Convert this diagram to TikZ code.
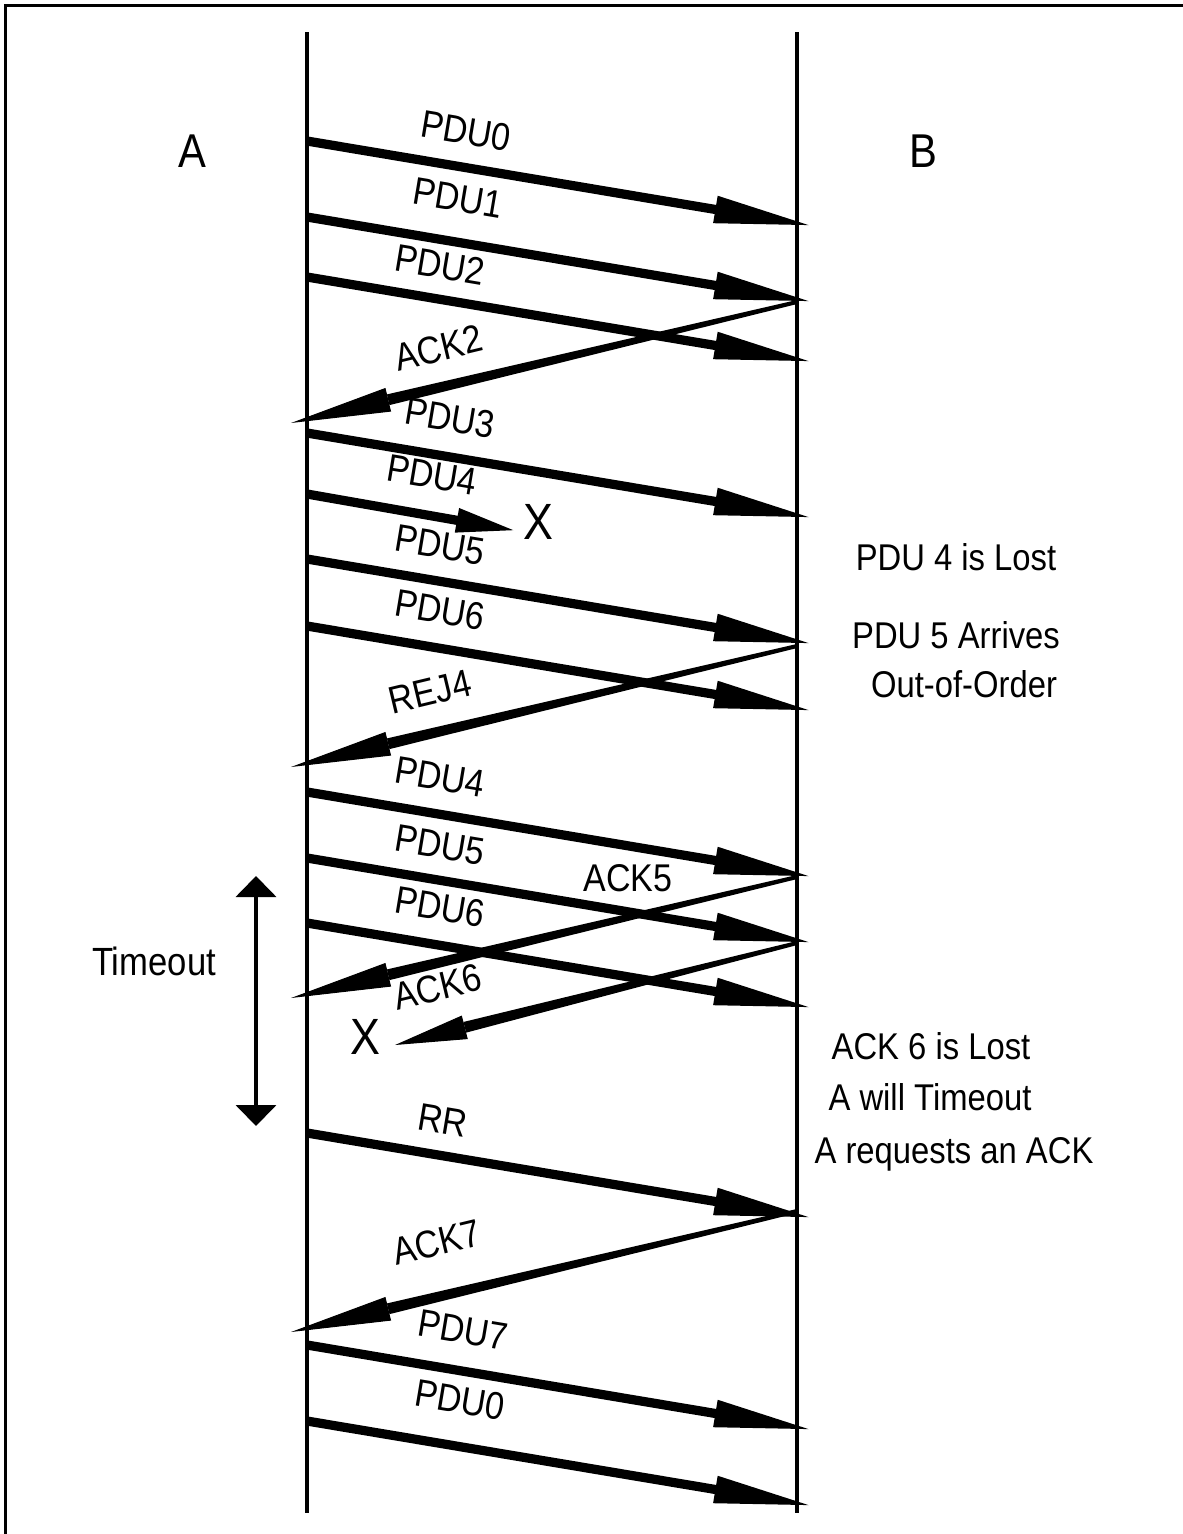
\documentclass[tikz,border=0pt]{standalone}
\usepackage{fontspec}
\setmainfont{Liberation Sans}[FakeStretch=0.88]
\usetikzlibrary{arrows.meta,calc}

% tapered acknowledgement line from B back to A, with its head
\newcommand{\ackarrow}[3][10mm]{%
  \fill ($(#2)!0.2mm!90:(#3)$) -- ($(#2)!0.2mm!-90:(#3)$)
    -- ($(#3)!#1!(#2)!0.55mm!90:(#2)$) -- ($(#3)!#1!(#2)!0.55mm!-90:(#2)$) -- cycle;
  \draw[acktip=#1] (#2) -- (#3);
}

\begin{document}
\begin{tikzpicture}[
  x=0.1mm, y=-0.1mm,
  every node/.style={inner sep=0pt, font=\fontsize{11}{13}\selectfont},
  frame/.style={line width=0.35mm},
  life/.style={line width=0.33mm},
  pdu/.style={line width=0.92mm, -{Triangle[length=10mm, width=2.5mm]}},
  droppdu/.style={line width=0.92mm, -{Triangle[length=6.2mm, width=2.2mm]}},
  acktip/.style={line width=0.1mm, -{Triangle[length=#1, width=2.4mm]}},
  fwd/.style={rotate=-9.5},
  back/.style={rotate=13.5},
  cross/.style={font=\fontsize{14.5}{16}\selectfont},
  side/.style={anchor=base, font=\fontsize{13.5}{15}\selectfont},
  note/.style={anchor=base, font=\fontsize{10.6}{12}\selectfont},
  timer/.style={line width=0.4mm, {Triangle[length=2.1mm, width=4mm]}-{Triangle[length=2.1mm, width=4mm]}},
]
\useasboundingbox (0,0) rectangle (1183,1534);
% frame, only top and left edge in view
\draw[frame] (5.5,1534) -- (5.5,5.5) -- (1183,5.5);

% lifelines
\coordinate (Atop) at (307,32);
\coordinate (Abot) at (307,1513);
\coordinate (Btop) at (797,32);
\coordinate (Bbot) at (797,1513);
\draw[life] (Atop) -- (Abot);
\draw[life] (Btop) -- (Bbot);
\node[side] (A) at (192,167) {A};
\node[side] (B) at (923,167) {B};

% PDU0 - PDU2, ACK2
\coordinate (p0a) at (307,141);  \coordinate (p0b) at (814,226);
\coordinate (p1a) at (307,217);  \coordinate (p1b) at (814,302);
\coordinate (p2a) at (307,277);  \coordinate (p2b) at (814,362);
\coordinate (k2b) at (797,302);  \coordinate (k2a) at (291,423);
\draw[pdu] (p0a) -- (p0b);
\draw[pdu] (p1a) -- (p1b);
\draw[pdu] (p2a) -- (p2b);
\ackarrow{k2b}{k2a}
\node[fwd] (l0) at (466,131) {PDU0};
\node[fwd] (l1) at (458,198) {PDU1};
\node[fwd] (l2) at (440,265) {PDU2};
\node[back] (lk2) at (439,348) {ACK2};

% PDU3 - PDU6, PDU4 lost, REJ4
\coordinate (p3a) at (307,433);  \coordinate (p3b) at (814,518);
\coordinate (p4a) at (307,494);  \coordinate (p4x) at (518,531);
\coordinate (p5a) at (307,559);  \coordinate (p5b) at (814,644);
\coordinate (p6a) at (307,626);  \coordinate (p6b) at (814,711);
\coordinate (r4b) at (797,646);  \coordinate (r4a) at (291,767);
\draw[pdu] (p3a) -- (p3b);
\draw[droppdu] (p4a) -- (p4x);
\draw[pdu] (p5a) -- (p5b);
\draw[pdu] (p6a) -- (p6b);
\ackarrow{r4b}{r4a}
\node[fwd] (l3) at (450,418) {PDU3};
\node[fwd] (l4) at (432,475) {PDU4};
\node[cross] (x4) at (538,522) {X};
\node[fwd] (l5) at (440,545) {PDU5};
\node[fwd] (l6) at (440,610) {PDU6};
\node[back] (lr4) at (430,692) {REJ4};
\node[note] (n1) at (956,570) {PDU 4 is Lost};
\node[note] (n2) at (956,648) {PDU 5 Arrives};
\node[note] (n3) at (964,697) {Out-of-Order};

% resend PDU4 - PDU6, ACK5, ACK6 lost
\coordinate (q4a) at (307,792);  \coordinate (q4b) at (814,877);
\coordinate (q5a) at (307,858);  \coordinate (q5b) at (814,943);
\coordinate (q6a) at (307,923);  \coordinate (q6b) at (814,1008);
\coordinate (k5b) at (797,877);  \coordinate (k5a) at (291,998);
\coordinate (k6b) at (797,943);  \coordinate (k6x) at (395,1045);
\draw[pdu] (q4a) -- (q4b);
\draw[pdu] (q5a) -- (q5b);
\draw[pdu] (q6a) -- (q6b);
\ackarrow{k5b}{k5a}
\ackarrow[7.2mm]{k6b}{k6x}
\node[fwd] (m4) at (440,777) {PDU4};
\node[fwd] (m5) at (440,845) {PDU5};
\node (lk5) at (628,878) {ACK5};
\node[fwd] (m6) at (440,907) {PDU6};
\node[back] (lk6) at (438,987) {ACK6};
\node[cross] (x6) at (365,1037) {X};
\node[note] (n4) at (931,1059) {ACK 6 is Lost};
\node[note] (n5) at (930,1110) {A will Timeout};
\node[note] (n6) at (954,1163) {A requests an ACK};

% timeout
\coordinate (t1) at (256,876);
\coordinate (t2) at (256,1126);
\draw[timer] (t1) -- (t2);
\node[font=\fontsize{11.2}{13}\selectfont] (tl) at (154,961) {Timeout};

% RR, ACK7, PDU7, PDU0
\coordinate (rra) at (307,1133); \coordinate (rrb) at (814,1218);
\coordinate (k7b) at (797,1211); \coordinate (k7a) at (291,1332);
\coordinate (p7a) at (307,1345); \coordinate (p7b) at (814,1430);
\coordinate (s0a) at (307,1421); \coordinate (s0b) at (814,1506);
\draw[pdu] (rra) -- (rrb);
\ackarrow{k7b}{k7a}
\draw[pdu] (p7a) -- (p7b);
\draw[pdu] (s0a) -- (s0b);
\node[fwd] (lrr) at (443,1120) {RR};
\node[back] (lk7) at (437,1242) {ACK7};
\node[fwd] (l7) at (463,1330) {PDU7};
\node[fwd] (l8) at (460,1400) {PDU0};
\end{tikzpicture}
\end{document}
